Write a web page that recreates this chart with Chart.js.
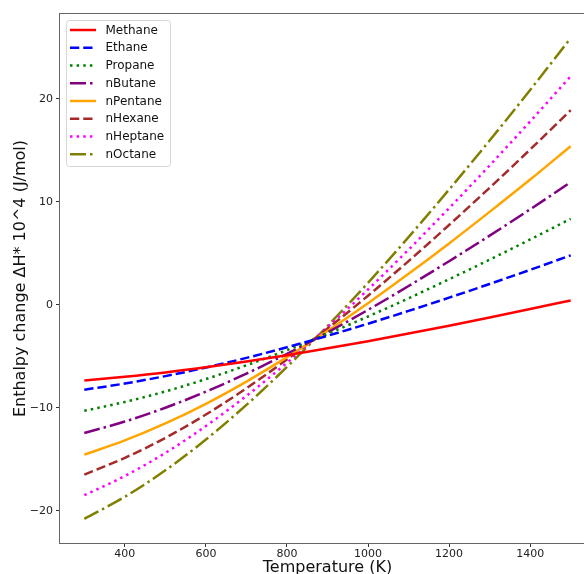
<!DOCTYPE html>
<html><head><meta charset="utf-8">
<script src="https://cdn.jsdelivr.net/npm/chart.js@4.4.0/dist/chart.umd.min.js"></script>
<style>
html,body{margin:0;padding:0;background:#fff;overflow:hidden}
#wrap{width:584px;height:574px;overflow:hidden;position:relative;background:#fff}
canvas{position:absolute;left:0;top:0}
</style></head>
<body><div id="wrap"><canvas id="c" width="600" height="600"></canvas></div>
<script>
// ---- data (values ×10^4 J/mol) ----
const temperatures = [300, 400, 500, 600, 700, 800, 900, 1000, 1100, 1200, 1300, 1400, 1500];
const methane  = [-7.35, -6.99, -6.57, -6.07, -5.51, -4.90, -4.23, -3.54, -2.80, -2.03, -1.24, -0.42, 0.42];
const ethane   = [-8.25, -7.65, -6.93, -6.10, -5.16, -4.13, -3.02, -1.84, -0.60, 0.69, 2.02, 3.39, 4.80];
const propane  = [-10.30, -9.44, -8.42, -7.22, -5.88, -4.41, -2.82, -1.14, 0.63, 2.48, 4.38, 6.34, 8.35];
const nButane  = [-12.46, -11.34, -10.00, -8.44, -6.69, -4.76, -2.69, -0.50, 1.82, 4.23, 6.71, 9.27, 11.90];
const nPentane = [-14.56, -13.18, -11.53, -9.62, -7.46, -5.09, -2.55, 0.15, 3.00, 5.96, 9.02, 12.16, 15.40];
const nHexane  = [-16.50, -14.87, -12.93, -10.66, -8.11, -5.31, -2.31, 0.88, 4.24, 7.75, 11.36, 15.08, 18.90];
const nHeptane = [-18.50, -16.63, -14.39, -11.78, -8.85, -5.64, -2.18, 1.48, 5.35, 9.38, 13.53, 17.80, 22.20];
const nOctane  = [-20.80, -18.65, -16.08, -13.09, -9.73, -6.04, -2.07, 2.13, 6.57, 11.19, 15.95, 20.86, 25.90];
const seriesNames = ['Methane', 'Ethane', 'Propane', 'nButane', 'nPentane', 'nHexane', 'nHeptane', 'nOctane'];
const seriesValues = [methane, ethane, propane, nButane, nPentane, nHexane, nHeptane, nOctane];
const xTickValues = [400, 600, 800, 1000, 1200, 1400];
const yTickValues = [-20, -10, 0, 10, 20];
const xTitle = 'Temperature (K)';
const yTitle = 'Enthalpy change \u0394H* 10^4 (J/mol)';

// ---- styles ----
const LW = 2.5;
const colors = ['#ff0000', '#0000ff', '#008000', '#800080', '#ffa500', '#a52a2a', '#ff00ff', '#808000'];
const DASH = [], DASHED = [3.7*LW, 1.6*LW], DOTTED = [1*LW, 1.65*LW], DASHDOT = [6.4*LW, 1.6*LW, 1*LW, 1.6*LW];
const dashes = [DASH, DASHED, DOTTED, DASHDOT, DASH, DASHED, DOTTED, DASHDOT];
const FONT = "'DejaVu Sans', sans-serif";

const datasets = seriesNames.map((name, i) => ({
  label: name,
  data: temperatures.map((t, j) => ({x: t, y: seriesValues[i][j]})),
  borderColor: colors[i],
  backgroundColor: colors[i],
  borderWidth: LW,
  borderDash: dashes[i],
  borderCapStyle: 'butt',
  pointRadius: 0,
  cubicInterpolationMode: 'monotone',
  fill: false
}));

const frame = {
  id: 'frame',
  afterDatasetsDraw(chart) {
    const {ctx, chartArea: a} = chart;
    ctx.save();
    ctx.strokeStyle = '#666';
    ctx.lineWidth = 1;
    ctx.strokeRect(a.left - 0.5, a.top - 0.5, a.right - a.left + 1, a.bottom - a.top + 1);
    ctx.restore();
  },
  afterDraw(chart) {
    const ctx = chart.ctx;
    ctx.save();
    const bx = 66.5, by = 20.5, bw = 104, bh = 146, r = 3;
    ctx.beginPath();
    ctx.moveTo(bx + r, by);
    ctx.arcTo(bx + bw, by, bx + bw, by + bh, r);
    ctx.arcTo(bx + bw, by + bh, bx, by + bh, r);
    ctx.arcTo(bx, by + bh, bx, by, r);
    ctx.arcTo(bx, by, bx + bw, by, r);
    ctx.closePath();
    ctx.fillStyle = 'rgba(255,255,255,0.8)';
    ctx.fill();
    ctx.strokeStyle = '#d6d6d6';
    ctx.lineWidth = 1;
    ctx.stroke();
    ctx.font = '12px ' + FONT;
    ctx.textBaseline = 'middle';
    ctx.textAlign = 'left';
    chart.data.datasets.forEach((ds, i) => {
      const y = 30 + i * 17.75;
      ctx.beginPath();
      ctx.setLineDash(ds.borderDash);
      ctx.lineCap = 'butt';
      ctx.strokeStyle = ds.borderColor;
      ctx.lineWidth = LW;
      ctx.moveTo(70, y);
      ctx.lineTo(96, y);
      ctx.stroke();
      ctx.setLineDash([]);
      ctx.fillStyle = '#111';
      ctx.fillText(ds.label, 105.5, y + 0.5);
    });
    ctx.restore();
  }
};

const minus = v => (v < 0 ? '\u2212' + Math.abs(v) : String(v));

new Chart(document.getElementById('c'), {
  type: 'line',
  data: {datasets},
  plugins: [frame],
  options: {
    responsive: false,
    devicePixelRatio: 1,
    animation: false,
    layout: {padding: {left: 0, top: 14, right: 5, bottom: 0}},
    plugins: {legend: {display: false}, tooltip: {enabled: false}},
    scales: {
      x: {
        type: 'linear', min: 240, max: 1560,
        afterBuildTicks: s => { s.ticks = xTickValues.map(v => ({value: v})); },
        afterFit: s => { s.height = 57; },
        grid: {display: true, drawOnChartArea: false, drawTicks: true, tickLength: 4, color: '#333'},
        border: {display: false},
        ticks: {font: {family: FONT, size: 11}, color: '#222', padding: 1, maxRotation: 0, callback: v => minus(v)},
        title: {display: true, text: xTitle, font: {family: FONT, size: 16}, color: '#111', padding: {top: 0, bottom: 23}}
      },
      y: {
        type: 'linear', min: -23.14, max: 28.24,
        afterBuildTicks: s => { s.ticks = yTickValues.map(v => ({value: v})); },
        afterFit: s => { s.width = 60; },
        grid: {display: true, drawOnChartArea: false, drawTicks: true, tickLength: 4, color: '#333'},
        border: {display: false},
        ticks: {font: {family: FONT, size: 11}, color: '#222', padding: 3, callback: v => minus(v)},
        title: {display: true, text: yTitle, font: {family: FONT, size: 16}, color: '#111', padding: {top: 11, bottom: 0}}
      }
    }
  }
});
</script>
</body></html>
